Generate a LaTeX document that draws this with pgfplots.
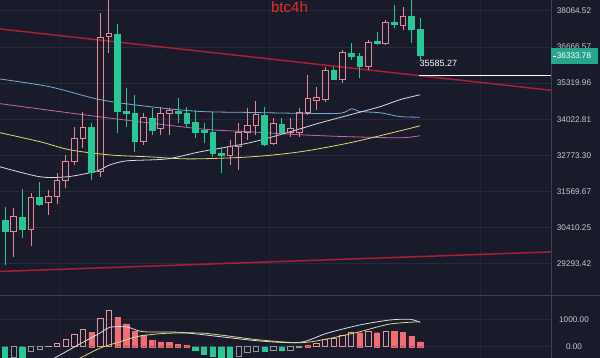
\documentclass[border=0pt]{standalone}
\usepackage{fontspec}
\setmainfont{Liberation Sans}
\usepackage{pgfplots}
\usepackage{pgfplotstable}
\pgfplotsset{compat=1.18}

\definecolor{bg}{RGB}{25,27,43}
\definecolor{gridc}{RGB}{40,42,60}
\definecolor{vgridc}{RGB}{34,36,52}
\definecolor{sepc}{RGB}{62,66,88}
\definecolor{upc}{RGB}{228,138,150}
\definecolor{dnc}{RGB}{38,200,150}
\definecolor{trend}{RGB}{170,30,55}
\definecolor{mablue}{RGB}{120,170,215}
\definecolor{mapink}{RGB}{200,100,175}
\definecolor{mayel}{RGB}{225,215,120}
\definecolor{mawhite}{RGB}{215,220,235}
\definecolor{lab}{RGB}{200,202,212}
\definecolor{hred}{RGB}{240,110,115}
\definecolor{hpink}{RGB}{225,150,160}
\definecolor{hgray}{RGB}{150,150,160}
\definecolor{curc}{RGB}{38,166,140}
\definecolor{titler}{RGB}{228,45,45}

% up (close > open) candles: i open high low close
\pgfplotstableread{
i o h l c
1 30305 31040 29501 30751
3 30367 31522 29841 31393
5 31200 31620 30815 31425
6 31425 32187 31168 31920
7 31920 32787 31686 32553
8 32553 33756 32453 33341
9 33341 34285 33029 33722
11 32220 37987 32053 37019
12 37058 38650 36446 37174
16 33237 34249 33133 34070
18 33687 34465 33479 34213
19 34213 34429 33479 34321
26 32787 33306 32453 33064
27 33064 33895 32287 33549
28 33549 34429 33306 33791
29 33791 34680 33479 34177
31 33168 34070 33133 33860
33 33549 34070 33410 33687
34 33549 34429 33410 34249
35 34249 35626 34177 34752
36 34680 35183 34357 34788
37 34716 35924 34645 35775
39 35439 36558 35327 36446
42 35924 36942 35812 36826
44 36787 37716 36748 37600
46 37484 38222 37329 37832
}\upc

% down (close < open) candles
\pgfplotstableread{
i o h l c
0 30654 31072 29255 30305
2 30751 31653 30088 30367
4 31393 31887 31104 31168
10 33722 33895 31953 32220
13 37135 37561 33549 34321
14 34321 35147 33756 34249
15 34249 34896 32891 33237
17 34070 34429 33479 33652
20 34321 34788 33895 34249
21 34249 34465 33756 33895
22 33929 34357 33376 33583
23 33652 33895 33203 33583
24 33583 34285 32720 32856
25 32856 33064 32187 32787
30 34177 34465 33098 33168
32 33860 34070 33479 33549
38 35775 35924 35439 35477
40 36409 36826 36185 36297
41 36297 36446 35514 35924
43 36864 37251 36748 36787
45 37600 38301 37406 37522
47 37871 38650 36826 37329
48 37329 37793 36185 36333.78
}\dnc

\begin{document}
\begin{tikzpicture}
\useasboundingbox (0,0) rectangle (600pt,358pt);
\fill[bg] (0,0) rectangle (600pt,358pt);

\begin{axis}[
  at={(0pt,358pt)}, anchor=north west, scale only axis,
  width=551pt, height=295pt,
  xmin=-0.578, xmax=63.12,
  ymode=log, ymin=28365, ymax=38501,
  axis line style={draw=none},
  xtick={6.36,30.6,54.9}, xticklabels={},
  xmajorgrids,
  ytick={29293.42,30410.25,31569.67,32773.30,34022.81,35319.96,36666.57,38064.52},
  yticklabels={29293.42,30410.25,31569.67,32773.30,34022.81,35319.96,36666.57,38064.52},
  yticklabel pos=right,
  yticklabel style={anchor=center, xshift=23pt, inner sep=0pt, font=\fontsize{8.2}{9}\selectfont, text=lab},
  major tick length=0pt,
  ymajorgrids,
  y grid style={gridc, line width=0.7pt},
  x grid style={vgridc, line width=0.7pt},
  clip mode=individual,
]
% trend lines
\addplot[trend, line width=1.5pt] coordinates {(-0.578,37356) (63.12,35058)};
\addplot[trend, line width=1.5pt] coordinates {(-0.578,29061) (63.12,29655)};
% moving averages
\addplot[mablue, line width=0.8pt, smooth] coordinates {(-0.58,35466) (5.2,35183) (11,34716) (16.76,34465) (22.5,34296) (28.3,34260) (34.1,34230) (38.7,34230) (40.1,34393) (41,34300) (43.4,34249) (45.7,34115) (48,34094)};
\addplot[mapink, line width=0.8pt, smooth] coordinates {(-0.58,34573) (11,34103) (22.5,33687) (28.3,33583) (34.1,33479) (39.9,33410) (45.7,33376) (48,33445)};
\addplot[mayel, line width=0.8pt, smooth] coordinates {(-0.58,33549) (4.05,33237) (7.51,32960) (12.14,32787) (16.76,32720) (21.39,32653) (28.3,32720) (34.1,32891) (39.9,33203) (45.7,33618) (48,33791)};
\addplot[mawhite, line width=0.8pt, smooth] coordinates {(-0.58,32387) (4.05,32053) (7.17,32053) (9.83,32187) (11,32287) (12.14,32453) (14.1,32587) (18.73,32653) (22.54,32891) (28.32,33203) (32.95,33583) (36.42,33895) (39.88,34177) (43.35,34465) (45.66,34716) (47.98,34896)};

% down candles (filled green)
\pgfplotstablegetrowsof{\dnc}
\pgfmathtruncatemacro\nrows{\pgfplotsretval-1}
\pgfplotsforeachungrouped \r in {0,...,\nrows}{%
  \pgfplotstablegetelem{\r}{i}\of\dnc\let\ci\pgfplotsretval
  \pgfplotstablegetelem{\r}{o}\of\dnc\let\co\pgfplotsretval
  \pgfplotstablegetelem{\r}{h}\of\dnc\let\ch\pgfplotsretval
  \pgfplotstablegetelem{\r}{l}\of\dnc\let\cl\pgfplotsretval
  \pgfplotstablegetelem{\r}{c}\of\dnc\let\cc\pgfplotsretval
  \pgfmathsetmacro\xa{\ci-0.33}\pgfmathsetmacro\xb{\ci+0.33}%
  \edef\next{%
    \noexpand\addplot[dnc, line width=0.8pt] coordinates {(\ci,\cl) (\ci,\ch)};
    \noexpand\addplot[draw=dnc, fill=dnc, line width=0.5pt] coordinates {(\xa,\co) (\xb,\co) (\xb,\cc) (\xa,\cc)} -- cycle;
  }\next
}
% up candles (hollow pink)
\pgfplotstablegetrowsof{\upc}
\pgfmathtruncatemacro\nrows{\pgfplotsretval-1}
\pgfplotsforeachungrouped \r in {0,...,\nrows}{%
  \pgfplotstablegetelem{\r}{i}\of\upc\let\ci\pgfplotsretval
  \pgfplotstablegetelem{\r}{o}\of\upc\let\co\pgfplotsretval
  \pgfplotstablegetelem{\r}{h}\of\upc\let\ch\pgfplotsretval
  \pgfplotstablegetelem{\r}{l}\of\upc\let\cl\pgfplotsretval
  \pgfplotstablegetelem{\r}{c}\of\upc\let\cc\pgfplotsretval
  \pgfmathsetmacro\xa{\ci-0.33}\pgfmathsetmacro\xb{\ci+0.33}%
  \edef\next{%
    \noexpand\addplot[upc, line width=0.8pt] coordinates {(\ci,\cl) (\ci,\co)};
    \noexpand\addplot[upc, line width=0.8pt] coordinates {(\ci,\cc) (\ci,\ch)};
    \noexpand\addplot[draw=upc, line width=0.8pt] coordinates {(\xa,\co) (\xb,\co) (\xb,\cc) (\xa,\cc)} -- cycle;
  }\next
}
% low price line
\addplot[white, line width=0.8pt] coordinates {(47.9,35585.27) (63.12,35585.27)};
\node[anchor=west, text=white, inner sep=0pt, font=\fontsize{9}{10}\selectfont] at (axis cs:47.9,35585.27) [yshift=12pt] {35585.27};
\coordinate (cur) at (axis cs:63.12,36333.78);
\end{axis}

\begin{axis}[
  at={(0pt,0pt)}, anchor=south west, scale only axis,
  width=551pt, height=62pt,
  xmin=-0.578, xmax=63.12,
  ymin=-412, ymax=1850,
  axis line style={draw=none},
  xtick={6.36,30.6,54.9}, xticklabels={},
  xmajorgrids,
  ytick={0,1000}, yticklabels={0.00,1000.00},
  yticklabel pos=right,
  yticklabel style={anchor=center, xshift=23pt, inner sep=0pt, font=\fontsize{8.2}{9}\selectfont, text=lab},
  major tick length=0pt,
  ymajorgrids,
  y grid style={gridc, line width=0.7pt},
  x grid style={vgridc, line width=0.7pt},
  clip mode=individual,
]
% histogram: filled green (negative)
\addplot[ybar, bar width=0.62, bar shift=0pt, fill=dnc, draw=dnc] coordinates {(0,-370) (2,-370) (22,-130) (23,-280) (24,-350) (25,-380) (26,-370) (30,-180) (32,-140)};
% hollow negative
\addplot[ybar, bar width=0.62, bar shift=0pt, draw=hgray, line width=0.6pt] coordinates {(1,-370) (3,-180) (4,-100) (27,-340) (28,-220) (29,-150) (31,-140) (33,-140) (34,-30)};
% filled red (positive)
\addplot[ybar, bar width=0.62, bar shift=0pt, fill=hred, draw=hred] coordinates {(10,525) (13,1060) (14,830) (15,550) (16,425) (17,220) (18,180) (19,150) (20,85) (21,60) (35,60) (41,510) (43,510) (45,550) (46,525) (47,390) (48,180)};
% hollow positive
\addplot[ybar, bar width=0.62, bar shift=0pt, draw=hpink, line width=0.6pt] coordinates {(5,30) (6,120) (7,270) (8,450) (9,635) (11,1035) (12,1315) (36,120) (37,270) (38,300) (39,425) (40,510) (42,550) (44,550)};
% DIF and DEA
\addplot[mawhite, line width=0.8pt, smooth] coordinates {(4,-700) (6,-365) (9,160) (11,500) (12.1,708) (14.1,719) (16,547) (20.2,525) (24.9,365) (29.5,208) (34.1,160) (37.2,489) (41,792) (44.5,974) (46.8,1000) (48,890)};
\addplot[mayel, line width=0.8pt, smooth] coordinates {(7,-700) (9,-365) (11,-50) (13.3,182) (15.6,390) (18.7,489) (22.5,500) (24.9,427) (29.5,245) (34.1,146) (37.2,281) (41,547) (44.5,828) (48,912)};
\end{axis}

% separators
\draw[sepc, line width=1pt] (0,62.5pt) -- (600pt,62.5pt);
\draw[sepc, line width=0.7pt] (551pt,0) -- (551pt,358pt);
% current price tag
\fill[curc] ([yshift=-8pt]cur) rectangle ([xshift=47pt,yshift=8pt]cur);
\draw[white, line width=0.6pt] ([xshift=2pt]cur) -- ([xshift=5pt]cur);
\node[text=white, inner sep=0pt, font=\fontsize{8.2}{9}\selectfont] at ([xshift=23pt]cur) {36333.78};
% title
\node[text=titler, inner sep=0pt, font=\fontsize{15}{16}\selectfont] at (289.5pt,351pt) {btc4h};
\end{tikzpicture}
\end{document}
